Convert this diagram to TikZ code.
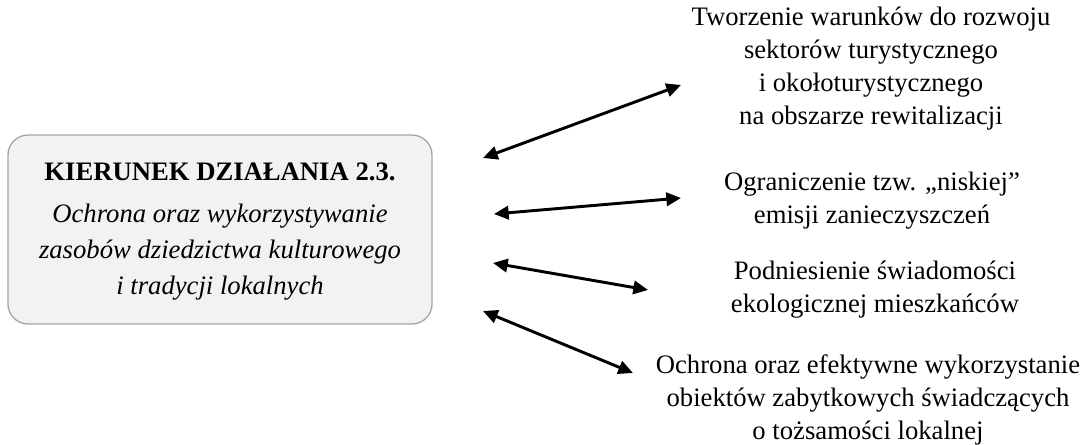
\documentclass[tikz,border=0pt]{standalone}
\usepackage{fontspec}
\setmainfont{Liberation Serif}
\usetikzlibrary{arrows.meta}
\definecolor{boxfill}{HTML}{F2F2F2}
\definecolor{boxdraw}{HTML}{A6A6A6}
\tikzset{
  mainbox/.style={draw=boxdraw, line width=1pt, fill=boxfill, rounded corners=15pt},
  goal/.style={align=center, font=\fontsize{20pt}{24.75pt}\selectfont, inner sep=0pt},
  link/.style={line width=2.2pt, {Triangle[length=11pt,width=10pt]}-{Triangle[length=11pt,width=10pt]}}
}
\begin{document}
\begin{tikzpicture}[x=0.75pt,y=-0.75pt]
\useasboundingbox (0,0) rectangle (1086,445);
% main box
\draw[mainbox] (8,135) rectangle (432,324);
\node[font=\bfseries\fontsize{20pt}{24pt}\selectfont, inner sep=0pt] (title) at (220,172) {KIERUNEK DZIAŁANIA 2.3.};
\node[align=center, font=\itshape\fontsize{20pt}{27pt}\selectfont, inner sep=0pt] (sub) at (220,252) {Ochrona oraz wykorzystywanie\\zasobów dziedzictwa kulturowego\\i tradycji lokalnych};
% right texts
\node[goal] (g1) at (871,69) {Tworzenie warunków do rozwoju\\sektorów turystycznego\\i okołoturystycznego\\na obszarze rewitalizacji};
\node[goal] (g2) at (872,201) {Ograniczenie tzw. „niskiej”\\emisji zanieczyszczeń};
\node[goal] (g3) at (875,290) {Podniesienie świadomości\\ekologicznej mieszkańców};
\node[goal] (g4) at (868,400) {Ochrona oraz efektywne wykorzystanie\\obiektów zabytkowych świadczących\\o tożsamości lokalnej};
% arrow endpoints
\coordinate (a1s) at (483,158); \coordinate (a1e) at (681,85);
\coordinate (a2s) at (494,214); \coordinate (a2e) at (681,198);
\coordinate (a3s) at (493,263); \coordinate (a3e) at (648,290);
\coordinate (a4s) at (483,311); \coordinate (a4e) at (633,373);
\draw[link] (a1s) -- (a1e);
\draw[link] (a2s) -- (a2e);
\draw[link] (a3s) -- (a3e);
\draw[link] (a4s) -- (a4e);
\end{tikzpicture}
\end{document}
